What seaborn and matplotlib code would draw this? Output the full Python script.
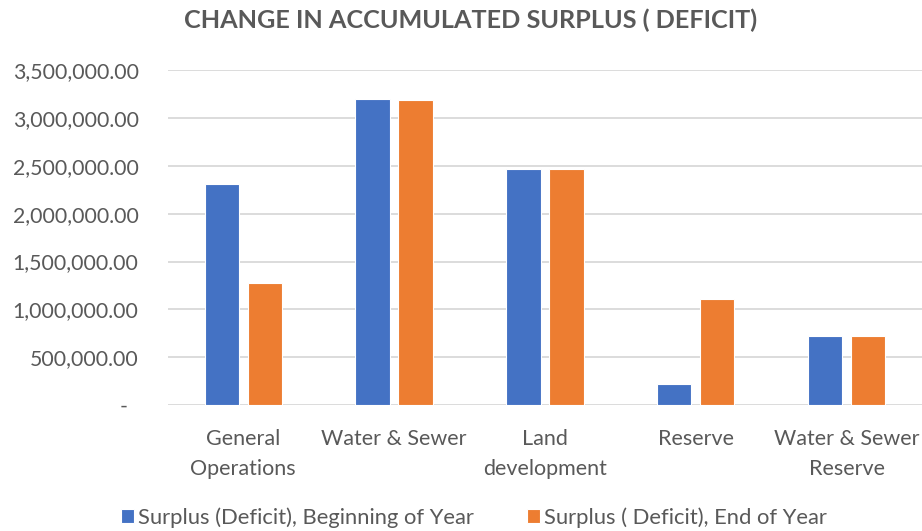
import pandas as pd
import matplotlib.pyplot as plt
import seaborn as sns
from matplotlib.ticker import FuncFormatter, MultipleLocator

# values
categories = ["General\nOperations", "Water & Sewer", "Land\ndevelopment", "Reserve", "Water & Sewer\nReserve"]
beginning = [2315000, 3201000, 2462000, 223000, 722000]
end_of_year = [1280000, 3187000, 2464000, 1112000, 722000]
series_names = ["Surplus (Deficit), Beginning of Year", "Surplus ( Deficit), End of Year"]
colors = ["#4472C4", "#ED7D31"]

text_gray = "#595959"


def build_frame():
    """long format table for seaborn"""
    rows = []
    for cat, b, e in zip(categories, beginning, end_of_year):
        rows.append({"category": cat, "series": series_names[0], "value": b})
        rows.append({"category": cat, "series": series_names[1], "value": e})
    return pd.DataFrame(rows)


def money(v, pos):
    if v == 0:
        return "-  "
    return f"{v:,.2f}"


def plot(df):
    sns.set_style("white")
    plt.rcParams["font.family"] = ["Lato", "DejaVu Sans"]
    fig = plt.figure(figsize=(9.22, 5.31), dpi=100)
    ax = fig.add_axes([0.182, 0.237, 0.818, 0.631])
    sns.barplot(data=df, x="category", y="value", hue="series", palette=colors,
                saturation=1, width=0.57, gap=0.2, edgecolor="white", linewidth=0.8,
                ax=ax, legend=True)
    ax.set_ylim(0, 3500000)
    ax.yaxis.set_major_locator(MultipleLocator(500000))
    ax.yaxis.set_major_formatter(FuncFormatter(money))
    ax.grid(axis="y", color="#D9D9D9", linewidth=1.3)
    ax.set_axisbelow(True)
    sns.despine(ax=ax, left=True, bottom=True)
    ax.set_xlabel("")
    ax.set_ylabel("")
    ax.tick_params(axis="y", length=0, pad=21, labelsize=15.3, labelcolor=text_gray)
    ax.tick_params(axis="x", length=0, pad=17, labelsize=15.5, labelcolor=text_gray)
    for lbl in ax.get_xticklabels():
        lbl.set_linespacing(1.65)
        lbl.set_verticalalignment("top")

    handles, labels = ax.get_legend_handles_labels()
    ax.get_legend().remove()
    fig.legend(handles, labels, loc="center", bbox_to_anchor=(0.514, 0.025), ncol=2,
               frameon=False, fontsize=15.8, labelcolor=text_gray, handlelength=0.6,
               handleheight=0.6, handletextpad=0.2, columnspacing=2.4)

    fig.suptitle("CHANGE IN ACCUMULATED SURPLUS ( DEFICIT)", x=0.51, y=0.962, va="center",
                 fontsize=18.2, fontweight="bold", color=text_gray)
    fig.savefig("out.png", dpi=100)


if __name__ == "__main__":
    plot(build_frame())
